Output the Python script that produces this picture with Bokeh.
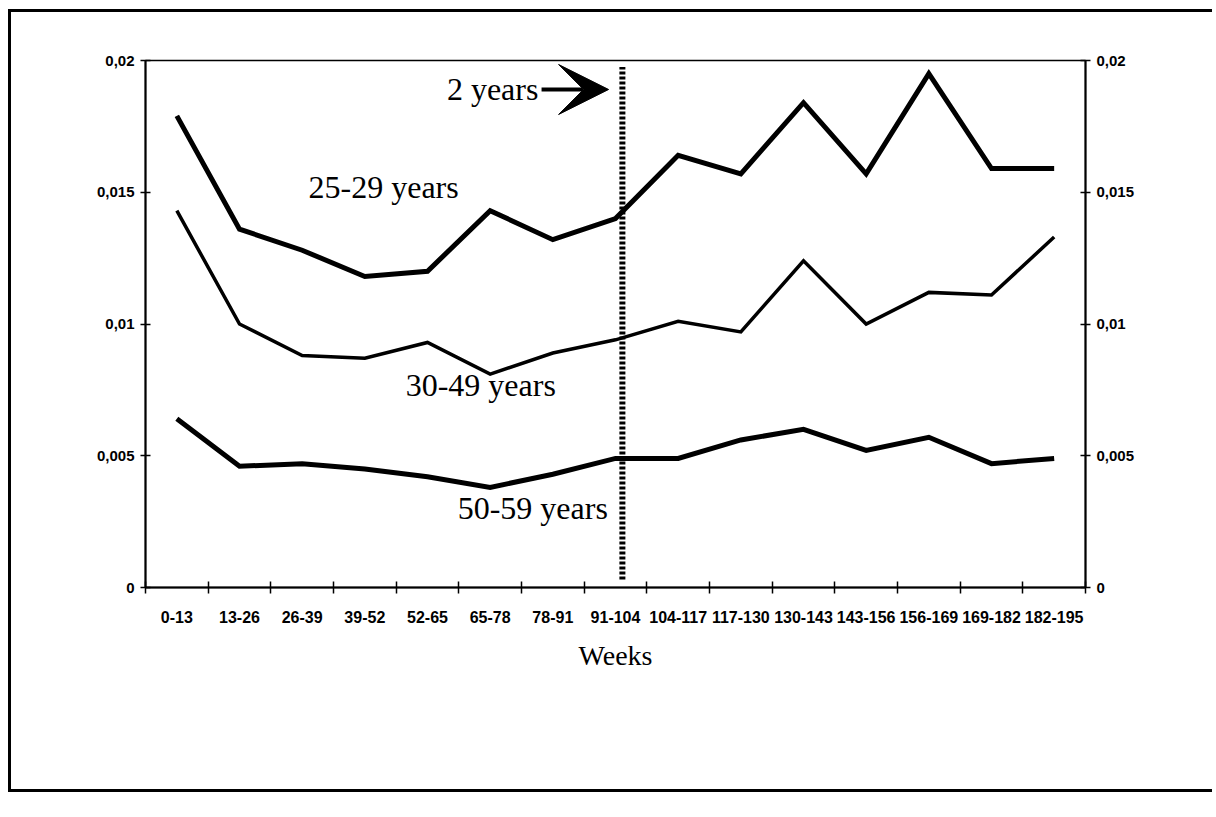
from bokeh.plotting import figure
from bokeh.models import (Range1d, LinearAxis, FixedTicker, CustomJSTickFormatter,
                          Label, Arrow, VeeHead)
from bokeh.embed import file_html
from bokeh.resources import INLINE

# ---- data ----
weeks = ["0-13", "13-26", "26-39", "39-52", "52-65", "65-78", "78-91", "91-104",
         "104-117", "117-130", "130-143", "143-156", "156-169", "169-182", "182-195"]
rate_25_29 = [0.0179, 0.0136, 0.0128, 0.0118, 0.0120, 0.0143, 0.0132, 0.0140,
              0.0164, 0.0157, 0.0184, 0.0157, 0.0195, 0.0159, 0.0159]
rate_30_49 = [0.0143, 0.0100, 0.0088, 0.0087, 0.0093, 0.0081, 0.0089, 0.0094,
              0.0101, 0.0097, 0.0124, 0.0100, 0.0112, 0.0111, 0.0133]
rate_50_59 = [0.0064, 0.0046, 0.0047, 0.0045, 0.0042, 0.0038, 0.0043, 0.0049,
              0.0049, 0.0056, 0.0060, 0.0052, 0.0057, 0.0047, 0.0049]
y_ticks = [0, 0.005, 0.01, 0.015, 0.02]
series_labels = ["25-29 years", "30-49 years", "50-59 years"]

x_pos = [i + 0.5 for i in range(len(weeks))]

SERIF = "Liberation Serif"
SANS = "Liberation Sans"

p = figure(width=1204, height=783, output_backend="svg", toolbar_location=None,
           x_range=Range1d(0, len(weeks)), y_range=Range1d(0, 0.02),
           min_border_left=134, min_border_right=130, min_border_top=48,
           min_border_bottom=208, background_fill_color="white",
           border_fill_color="white")
p.styles = {"margin-left": "8px", "margin-top": "9px",
            "border-left": "3px solid black", "border-top": "3px solid black",
            "border-bottom": "3px solid black"}
p.xgrid.grid_line_color = None
p.ygrid.grid_line_color = None
p.outline_line_color = "black"
p.outline_line_width = 1.5

comma_fmt = CustomJSTickFormatter(code="""
if (tick == 0) { return '0'; }
return tick.toFixed(3).replace(/0+$/, '').replace('.', ',');
""")

# bottom axis: labels at category centres, tick marks on category boundaries
xa = p.xaxis[0]
xa.ticker = FixedTicker(ticks=x_pos, minor_ticks=list(range(len(weeks) + 1)))
xa.formatter = CustomJSTickFormatter(args=dict(labels=weeks),
                                     code="return labels[Math.floor(tick)];")
xa.major_tick_line_color = None
xa.major_tick_in = 0
xa.major_tick_out = 0
xa.minor_tick_in = 6
xa.minor_tick_out = 6
xa.minor_tick_line_color = "black"
xa.minor_tick_line_width = 1.5
xa.axis_line_width = 2
xa.axis_line_color = "black"
xa.major_label_standoff = 17
xa.major_label_text_font = SANS
xa.major_label_text_font_size = "16px"
xa.major_label_text_font_style = "bold"
xa.major_label_text_color = "black"
xa.axis_label = "Weeks"
xa.axis_label_text_font = SERIF
xa.axis_label_text_font_size = "28px"
xa.axis_label_text_font_style = "normal"
xa.axis_label_text_color = "black"
xa.axis_label_standoff = 14

def style_y(ax):
    ax.ticker = FixedTicker(ticks=y_ticks)
    ax.formatter = comma_fmt
    ax.major_tick_in = 5
    ax.major_tick_out = 5
    ax.major_tick_line_color = "black"
    ax.major_tick_line_width = 1.5
    ax.minor_tick_line_color = None
    ax.axis_line_width = 2
    ax.axis_line_color = "black"
    ax.major_label_standoff = 6
    ax.major_label_text_font = SANS
    ax.major_label_text_font_size = "15px"
    ax.major_label_text_font_style = "bold"
    ax.major_label_text_color = "black"

style_y(p.yaxis[0])
ry = LinearAxis()
style_y(ry)
p.add_layout(ry, "right")

# series lines
p.line(x_pos, rate_25_29, line_width=5, line_color="black", line_join="miter")
p.line(x_pos, rate_30_49, line_width=3.5, line_color="black", line_join="miter")
p.line(x_pos, rate_50_59, line_width=5, line_color="black", line_join="miter")

# 2-year marker
marker_x = 7.61
p.segment(x0=[marker_x], y0=[0.0003], x1=[marker_x], y1=[0.01975],
          line_width=6, line_dash="3 2", line_color="black", line_cap="butt")
p.add_layout(Arrow(end=VeeHead(size=50, fill_color="black", line_color="black",
                               line_width=1),
                   x_start=6.32, y_start=0.0189, x_end=7.39, y_end=0.0189,
                   line_width=4, line_color="black"))
p.add_layout(Label(x=6.27, y=0.0189, text="2 years", text_font=SERIF,
                   text_font_size="32px", text_align="right",
                   text_baseline="middle", text_color="black"))

# series labels
for txt, lx, ly in zip(series_labels, [3.8, 5.35, 6.18], [0.0152, 0.0077, 0.0030]):
    p.add_layout(Label(x=lx, y=ly, text=txt, text_font=SERIF,
                       text_font_size="32px", text_align="center",
                       text_baseline="middle", text_color="black"))

open("out.html", "w").write(file_html(p, INLINE))
